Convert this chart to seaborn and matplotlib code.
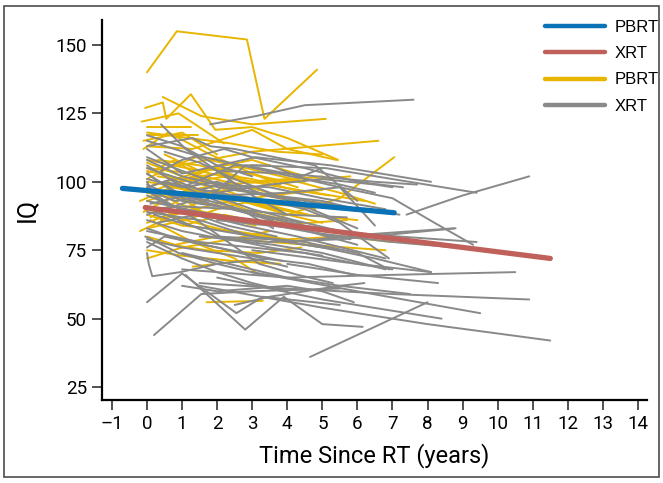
import numpy as np
import pandas as pd
import matplotlib
matplotlib.use("Agg")
import matplotlib.pyplot as plt
from matplotlib.lines import Line2D
from matplotlib.patches import Rectangle
import seaborn as sns

# individual patient trajectories (years since RT, IQ)
pbrt_time = [
    [0.0, 0.85, 2.85, 3.35, 4.85], [-0.05, 0.45, 0.55, 1.25, 1.95, 3.0, 4.0, 5.45],
    [0.45, 1.55, 3.0, 5.1], [-0.15, 0.9, 2.2], [0.0, 1.25], [0.0, 1.45],
    [0.0, 1.3, 3.0, 4.0, 5.4], [0.9, 3.0, 6.6], [3.5, 5.5, 7.05], [-0.1, 1.0, 2.0],
    [0.0, 1.5, 3.0, 4.5], [0.0, 1.0, 2.5, 4.0, 5.8], [-0.2, 0.8, 2.0, 3.5, 5.0],
    [0.0, 1.2, 2.6, 4.0], [0.2, 1.5, 3.0, 4.8], [0.0, 1.0, 2.2, 3.6, 5.7],
    [0.0, 0.8, 2.0, 3.5, 6.8], [0.0, 1.0, 2.5, 3.8], [0.1, 1.3, 2.5, 3.2], [1.7, 3.3],
    [0.0, 1.0, 2.0, 3.2, 4.5], [0.5, 1.5, 2.8, 4.0, 5.5, 6.5], [0.0, 0.7, 1.5],
    [-0.1, 0.6, 1.8, 3.0, 4.3], [1.0, 2.5, 4.0, 5.6, 7.0], [0.0, 1.6, 3.0],
    [0.3, 1.4, 2.7, 4.0], [0.0, 1.0, 2.1], [0.6, 2.0, 3.5, 5.0], [0.0, 1.1, 2.3, 3.4, 4.5],
    [2.0, 3.0, 4.5, 5.7], [0.0, 1.0], [0.2, 1.7, 3.2, 4.4], [1.3, 2.6, 3.8],
    [0.0, 0.9, 1.9, 3.0, 3.8], [0.5, 1.5, 3.0, 4.5, 6.0], [0.0, 1.2, 2.4, 3.7, 5.0],
    [0.0, 0.8, 1.7, 2.6], [-0.2, 0.7, 1.6, 2.8, 4.2], [0.1, 1.0, 2.2, 3.3],
    [0.0, 0.6, 1.4, 2.5, 3.5, 4.5], [0.2, 1.0, 2.0, 3.0, 4.2, 5.2], [-0.1, 0.8, 1.6, 2.7],
    [0.0, 1.3, 2.9, 4.1, 5.6], [0.4, 1.2, 2.1, 3.3, 4.6], [0.0, 0.9, 2.1, 3.1],
    [1.2, 2.3, 3.4, 4.8, 6.2], [0.0, 1.1, 2.0, 3.0, 4.0, 5.0], [0.3, 1.5, 2.6],
    [0.0, 1.0, 2.4, 3.5],
]
pbrt_iq = [
    [140, 155, 152, 123, 141], [127, 129, 123, 132, 119, 120, 116, 108],
    [131, 124, 121, 123], [122, 125, 114], [120, 120], [117, 117],
    [113, 112, 119, 112, 108], [106, 111, 115], [86, 94, 109], [115, 118, 110],
    [108, 104, 108, 102], [104, 101, 104, 100, 102], [82, 88, 92, 95, 97],
    [96, 93, 90, 86], [92, 97, 94, 90], [88, 84, 88, 84, 86],
    [80, 77, 80, 78, 75], [75, 73, 71, 70], [86, 78, 72, 66], [56, 56.5],
    [100, 98, 95, 92, 91], [110, 104, 100, 101, 96, 92], [93, 96, 90],
    [112, 118, 110, 103, 98], [84, 82, 79, 80, 78], [98, 104, 106],
    [102, 100, 93, 88], [85, 90, 88], [95, 99, 100, 102], [90, 86, 82, 80, 77],
    [98, 96, 92, 90], [107, 102], [78, 75, 74, 76], [69, 71, 70],
    [96, 100, 105, 103, 99], [99, 96, 92, 88, 86], [118, 116, 114, 111, 110],
    [103, 108, 100, 97], [93, 98, 96, 90, 84], [87, 94, 97, 92],
    [101, 105, 109, 106, 103, 100], [94, 100, 103, 101, 97, 95], [89, 95, 100, 98],
    [105, 103, 98, 94, 91], [86, 91, 96, 92, 88], [98, 92, 87, 84],
    [100, 102, 99, 96, 93], [83, 86, 90, 93, 88, 85], [108, 106, 102],
    [72, 76, 79, 82],
]

xrt_time = [
    [1.8, 3.1, 4.5, 7.6], [0.4, 1.1, 2.0, 3.0, 4.0], [0.0, 1.3, 1.8, 2.5, 4.8, 6.0],
    [0.0, 1.0, 2.0, 3.0], [0.0, 1.0, 3.1, 5.25, 8.1], [2.0, 4.0, 6.5, 7.7],
    [3.0, 5.1, 7.0, 9.4], [7.4, 9.0, 10.9], [1.5, 5.0, 8.0, 11.5], [1.5, 4.0, 7.0, 10.9],
    [1.0, 4.0, 7.0, 10.5], [3.0, 6.0, 9.5], [2.0, 5.0, 8.4], [4.0, 6.0, 8.3],
    [3.0, 6.0, 8.1], [4.0, 6.5, 8.75], [2.0, 5.0, 9.4], [4.65, 8.0],
    [0.2, 1.55, 3.0, 5.5], [0.0, 1.0, 2.55, 3.3, 5.5], [1.1, 2.8, 3.9, 5.0, 6.15],
    [0.0, 0.05, 0.15, 0.95, 2.0, 3.5], [0.0, 1.0, 2.0, 3.5, 5.0, 6.8],
    [0.0, 0.8, 1.8, 3.0, 4.5, 6.6], [0.0, 1.0, 2.5, 4.0, 6.0], [0.0, 1.2, 2.8, 4.3, 6.8],
    [0.0, 0.9, 2.0, 3.5, 5.0], [0.0, 1.0, 2.2, 3.6, 5.0, 6.8], [0.0, 1.5, 3.0, 4.5, 6.0, 7.0],
    [-0.05, 0.9, 2.0, 3.3], [0.0, 1.0, 2.0, 3.0, 4.0], [0.4, 1.0, 2.2, 3.0, 4.5, 6.0, 7.3],
    [1.0, 2.5, 3.5, 4.5, 5.5, 6.5], [0.2, 1.6, 2.8, 4.4, 5.0], [0.0, 1.0, 2.0, 3.5, 5.0, 6.5, 7.0],
    [2.0, 4.0, 5.5, 7.0, 8.2, 9.3], [0.5, 2.0, 3.5, 4.5, 5.5, 6.9], [0.0, 1.5, 3.0, 4.5, 6.0, 6.9],
    [0.5, 1.5, 2.5, 3.5, 4.5, 6.0], [0.0, 0.9, 1.8, 2.8, 3.6], [0.0, 1.0, 2.0],
    [0.1, 1.2, 2.2, 3.2, 4.3, 5.3], [1.0, 2.0, 3.0, 4.0, 5.5, 7.5], [2.5, 3.5, 4.5, 5.5, 6.2],
    [0.0, 1.0, 2.3, 3.6, 5.0, 6.0, 7.2], [0.0, 0.9, 2.0, 3.3, 4.6, 5.9], [2.0, 3.5, 5.0, 6.5, 8.1],
    [1.5, 3.5, 5.5, 8.8], [0.0, 0.2, 0.5, 1.5, 3.0], [0.0, 1.0, 2.5, 4.0, 5.7],
    [1.0, 2.0, 3.0, 4.0, 5.0, 5.9], [0.0, 1.0, 2.0, 3.0, 4.0], [0.0, 1.5, 3.0, 5.0, 7.0, 8.8],
    [0.0, 0.7, 1.5, 2.4, 3.4, 4.5, 5.6], [0.1, 1.1, 2.1, 3.2, 4.4], [0.0, 1.2, 2.5, 3.6, 4.8, 6.3],
    [0.3, 1.4, 2.3, 3.7], [0.0, 0.8, 1.9, 3.0, 4.2, 5.5, 6.8], [1.0, 2.0, 3.2, 4.5, 5.8],
    [0.0, 1.0, 2.0, 3.0, 4.2], [0.2, 1.2, 2.6, 4.0, 5.5], [0.0, 0.5, 1.6, 2.8, 3.9],
    [0.0, 1.3, 2.7, 4.1, 5.5, 6.5],
]
xrt_iq = [
    [121, 124, 128, 130], [121, 112, 104, 95, 88], [113, 116, 113, 112, 106, 93],
    [117, 113, 106, 102], [112, 103, 109, 106, 100], [104, 103, 100, 99],
    [106, 105, 101, 96], [88, 95, 102], [62, 54, 48, 42], [63, 61, 59, 57],
    [68, 65, 66, 67], [67, 60, 52], [65, 57, 50], [70, 66, 63],
    [75, 70, 67], [78, 81, 83], [86, 82, 78], [36, 56],
    [44, 59, 60, 61], [56, 66.5, 52, 58, 55], [66, 46, 58, 48, 47],
    [74, 70, 65.5, 67, 70, 72], [108, 102, 99, 98, 94, 90],
    [103, 96, 92, 88, 84, 80], [99, 93, 90, 84, 77], [95, 89, 84, 80, 72],
    [91, 86, 80, 76, 73], [86, 82, 79, 77, 74, 68], [82, 78, 76, 74, 70, 68],
    [80, 74, 70, 66], [78, 72, 67, 63, 60], [104, 108, 112, 109, 105, 100, 98],
    [98, 106, 106, 101, 98, 84], [97, 92, 106, 102, 105], [88, 92, 96, 99, 101, 99, 98],
    [95, 96, 98, 94, 85, 77], [100, 96, 93, 90, 85, 72], [89, 86, 80, 78, 74, 68],
    [111, 107, 101, 96, 91, 83], [106, 99, 94, 89, 83], [103, 95, 97],
    [96, 88, 79, 70, 66, 63], [74, 71, 68, 65, 62, 59], [55, 58, 60, 62, 63],
    [109, 104, 98, 95, 93, 90, 88], [83, 79, 76, 72, 70, 66], [80, 79, 76, 72, 67],
    [80, 78, 79, 83], [100, 95, 92, 88, 86], [90, 91, 90, 88, 87],
    [62, 60, 61, 62, 60, 56], [79, 76, 74, 72, 69], [93, 89, 86, 81, 78, 76],
    [98, 101, 97, 100, 95, 93, 91], [92, 95, 92, 88, 85], [105, 100, 97, 95, 91, 89],
    [85, 88, 84, 80], [97, 93, 95, 90, 86, 82, 80], [90, 87, 85, 82, 79],
    [101, 98, 100, 96, 93], [88, 84, 81, 78, 75], [76, 80, 77, 74, 71],
    [115, 110, 106, 102, 99, 96],
]

# model fits
pbrt_fit_time = [-0.7, 7.05]
pbrt_fit_iq = [97.6, 88.7]
xrt_fit_time = [-0.05, 11.5]
xrt_fit_iq = [90.6, 72.0]

x_ticks = list(range(-1, 15))
y_ticks = [25, 50, 75, 100, 125, 150]

gold = "#e8b500"
gray = "#898989"
blue = "#0a73b7"
red = "#c0605a"

rows = []
pid = 0
for grp, times, iqs in [("PBRT", pbrt_time, pbrt_iq), ("XRT", xrt_time, xrt_iq)]:
    for t, v in zip(times, iqs):
        for a, b in zip(t, v):
            rows.append((pid, grp, a, b))
        pid += 1
df = pd.DataFrame(rows, columns=["patient", "group", "time", "iq"])
fits = pd.DataFrame({"time": pbrt_fit_time + xrt_fit_time,
                     "iq": pbrt_fit_iq + xrt_fit_iq,
                     "group": ["PBRT", "PBRT", "XRT", "XRT"]})

sns.set_style("ticks")
plt.rcParams["font.family"] = ["Roboto", "DejaVu Sans"]

fig = plt.figure(figsize=(6.63, 4.83), dpi=100)
ax = fig.add_axes([0.154, 0.172, 0.822, 0.787])

sns.lineplot(data=df[df.group == "PBRT"], x="time", y="iq", units="patient",
             estimator=None, sort=False, color=gold, lw=1.4, ax=ax)
sns.lineplot(data=df[df.group == "XRT"], x="time", y="iq", units="patient",
             estimator=None, sort=False, color=gray, lw=1.4, ax=ax)
sns.lineplot(data=fits[fits.group == "PBRT"], x="time", y="iq", color=blue,
             lw=3.8, estimator=None, ax=ax)
sns.lineplot(data=fits[fits.group == "XRT"], x="time", y="iq", color=red,
             lw=3.8, estimator=None, ax=ax)

ax.set_xlim(-1.28, 14.26)
ax.set_ylim(20.3, 159.2)
ax.set_xticks(x_ticks)
ax.set_xticklabels([str(t).replace("-", "\u2013") for t in x_ticks])
ax.set_yticks(y_ticks)
sns.despine(ax=ax)
for s in ["left", "bottom"]:
    ax.spines[s].set_linewidth(1.6)
    ax.spines[s].set_color("black")
ax.tick_params(axis="both", length=7, width=1.1, color="#222222", labelsize=13.5,
               labelcolor="black", pad=4)
ax.set_xlabel("Time Since RT (years)", fontsize=17, labelpad=7, color="black")
ax.set_ylabel("IQ", fontsize=18, labelpad=12, color="black")

handles = [Line2D([], [], color=blue, lw=3.2), Line2D([], [], color=red, lw=3.2),
           Line2D([], [], color=gold, lw=3.2), Line2D([], [], color=gray, lw=3.2)]
fig.legend(handles, ["PBRT", "XRT", "PBRT", "XRT"], loc="upper left",
           bbox_to_anchor=(0.822, 0.959), frameon=False, borderpad=0,
           borderaxespad=0, handlelength=3.6, handletextpad=0.55, labelspacing=0.68,
           labelcolor="black", prop={"family": "Liberation Sans", "size": 12})

fig.patches.append(Rectangle((0.006, 0.012), 0.988, 0.976, transform=fig.transFigure,
                             fill=False, edgecolor="#4d4d4d", lw=1.2))

fig.savefig("out.png", dpi=100)
